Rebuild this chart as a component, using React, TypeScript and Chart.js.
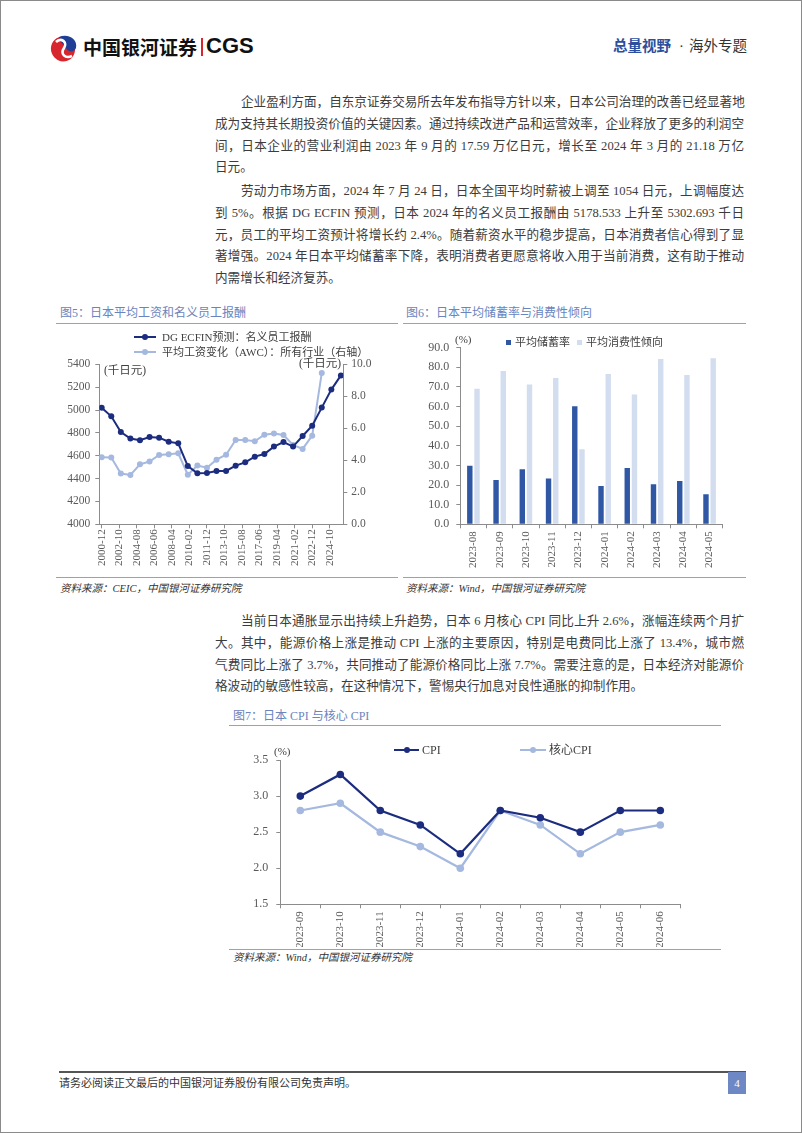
import React, { useEffect, useRef } from 'react';
import { Chart, registerables } from 'chart.js';
Chart.register(...registerables);

// ---------- Chart 5 data ----------
const WAGE_YEARS = [2000, 2001, 2002, 2003, 2004, 2005, 2006, 2007, 2008, 2009, 2010, 2011, 2012, 2013, 2014, 2015, 2016, 2017, 2018, 2019, 2020, 2021, 2022, 2023, 2024, 2025];
const COMPENSATION = [5020, 4945, 4808, 4750, 4735, 4764, 4758, 4723, 4709, 4510, 4446, 4449, 4467, 4467, 4513, 4542, 4592, 4615, 4680, 4720, 4680, 4773, 4863, 5021, 5178.533, 5302.693];
const AWC = [4.19, 4.17, 3.17, 3.08, 3.75, 3.92, 4.33, 4.38, 4.44, 3.1, 3.67, 3.54, 4.04, 4.35, 5.27, 5.27, 5.19, 5.6, 5.67, 5.58, 4.96, 4.71, 5.54, 9.46];
const WAGE_TICKS = ['2000-12', '2002-10', '2004-08', '2006-06', '2008-04', '2010-02', '2011-12', '2013-10', '2015-08', '2017-06', '2019-04', '2021-02', '2022-12', '2024-10'];
const WAGE_NAMES = ['DG ECFIN预测：名义员工报酬', '平均工资变化（AWC）：所有行业（右轴）'];

// ---------- Chart 6 data ----------
const SAVE_MONTHS = ['2023-08', '2023-09', '2023-10', '2023-11', '2023-12', '2024-01', '2024-02', '2024-03', '2024-04', '2024-05'];
const SAVING_RATE = [29.8, 22.6, 28.0, 23.4, 60.1, 19.5, 28.7, 20.4, 22.1, 15.3];
const CONSUMPTION = [69.1, 78.1, 71.2, 74.5, 38.2, 76.6, 66.1, 84.2, 76.1, 84.6];
const SAVE_NAMES = ['平均储蓄率', '平均消费性倾向'];

// ---------- Chart 7 data ----------
const CPI_MONTHS = ['2023-09', '2023-10', '2023-11', '2023-12', '2024-01', '2024-02', '2024-03', '2024-04', '2024-05', '2024-06'];
const CPI = [3.0, 3.3, 2.8, 2.6, 2.2, 2.8, 2.7, 2.5, 2.8, 2.8];
const CORE_CPI = [2.8, 2.9, 2.5, 2.3, 2.0, 2.8, 2.6, 2.2, 2.5, 2.6];
const CPI_NAMES = ['CPI', '核心CPI'];

// ---------- Text ----------
const P1 = [
  '企业盈利方面，自东京证券交易所去年发布指导方针以来，日本公司治理的改善已经显著地',
  '成为支持其长期投资价值的关键因素。通过持续改进产品和运营效率，企业释放了更多的利润空',
  '间，日本企业的营业利润由 2023 年 9 月的 17.59 万亿日元，增长至 2024 年 3 月的 21.18 万亿',
  '日元。',
];
const P2 = [
  '劳动力市场方面，2024 年 7 月 24 日，日本全国平均时薪被上调至 1054 日元，上调幅度达',
  '到 5%。根据 DG ECFIN 预测，日本 2024 年的名义员工报酬由 5178.533 上升至 5302.693 千日',
  '元，员工的平均工资预计将增长约 2.4%。随着薪资水平的稳步提高，日本消费者信心得到了显',
  '著增强。2024 年日本平均储蓄率下降，表明消费者更愿意将收入用于当前消费，这有助于推动',
  '内需增长和经济复苏。',
];
const P3 = [
  '当前日本通胀显示出持续上升趋势，日本 6 月核心 CPI 同比上升 2.6%，涨幅连续两个月扩',
  '大。其中，能源价格上涨是推动 CPI 上涨的主要原因，特别是电费同比上涨了 13.4%，城市燃',
  '气费同比上涨了 3.7%，共同推动了能源价格同比上涨 7.7%。需要注意的是，日本经济对能源价',
  '格波动的敏感性较高，在这种情况下，警惕央行加息对良性通胀的抑制作用。',
];

const NAVY = '#1c2d80';
const LIGHT = '#a5b8df';
const BAR_DARK = '#2f57a4';
const BAR_LIGHT = '#d2ddef';
const AXIS = '#8c8c8c';
const TICK = '#595959';
const TITLE = '#6a84be';
const SERIF = '"Liberation Serif", "Noto Sans CJK SC", serif';
const CJK = '"Liberation Serif", "Noto Sans CJK SC", sans-serif';

function tickFont(size: number) {
  return { family: 'Liberation Serif', size };
}

function makeWageConfig(): any {
  return {
    type: 'line',
    data: {
      datasets: [
        {
          label: WAGE_NAMES[0],
          data: COMPENSATION.map((v, i) => ({ x: (WAGE_YEARS[i] - 2000) * 12, y: v })),
          yAxisID: 'y',
          borderColor: NAVY,
          backgroundColor: NAVY,
          borderWidth: 2,
          pointRadius: 3,
          pointBorderWidth: 0,
          pointBackgroundColor: NAVY,
        },
        {
          label: WAGE_NAMES[1],
          data: AWC.map((v, i) => ({ x: (WAGE_YEARS[i] - 2000) * 12, y: v })),
          yAxisID: 'y1',
          borderColor: LIGHT,
          backgroundColor: LIGHT,
          borderWidth: 2,
          pointRadius: 3,
          pointBorderWidth: 0,
          pointBackgroundColor: LIGHT,
        },
      ],
    },
    options: {
      responsive: false,
      animation: false,
      events: [],
      layout: { padding: { left: 0, right: 14.7, top: 38.3, bottom: 0 } },
      plugins: { legend: { display: false }, tooltip: { enabled: false } },
      scales: {
        x: {
          type: 'linear',
          min: -3,
          max: 303,
          afterBuildTicks: (s: any) => {
            s.ticks = WAGE_TICKS.map((_, i) => ({ value: i * 22 }));
          },
          afterFit: (s: any) => {
            s.height = 51.7;
          },
          ticks: {
            autoSkip: false,
            minRotation: 90,
            maxRotation: 90,
            padding: 1,
            font: tickFont(11),
            color: TICK,
            callback: (_v: any, i: number) => WAGE_TICKS[i],
          },
          grid: { drawOnChartArea: false, tickLength: 4, color: AXIS },
          border: { color: AXIS },
        },
        y: {
          position: 'left',
          min: 4000,
          max: 5400,
          afterFit: (s: any) => {
            s.width = 43.3;
          },
          ticks: {
            stepSize: 200,
            padding: 5,
            font: tickFont(11.5),
            color: TICK,
            callback: (v: any) => String(Math.round(Number(v))),
          },
          grid: { drawOnChartArea: false, tickLength: 4, color: AXIS },
          border: { color: AXIS },
        },
        y1: {
          position: 'right',
          min: 0,
          max: 10,
          afterFit: (s: any) => {
            s.width = 40;
          },
          ticks: {
            stepSize: 2,
            padding: 4,
            font: tickFont(11.5),
            color: TICK,
            callback: (v: any) => Number(v).toFixed(1),
          },
          grid: { drawOnChartArea: false, tickLength: 4, color: AXIS },
          border: { color: AXIS },
        },
      },
    },
  };
}

function makeSaveConfig(): any {
  return {
    type: 'bar',
    data: {
      labels: SAVE_MONTHS,
      datasets: [
        {
          label: SAVE_NAMES[0],
          data: SAVING_RATE,
          backgroundColor: BAR_DARK,
          barPercentage: 0.75,
          categoryPercentage: 0.55,
        },
        {
          label: SAVE_NAMES[1],
          data: CONSUMPTION,
          backgroundColor: BAR_LIGHT,
          barPercentage: 0.75,
          categoryPercentage: 0.55,
        },
      ],
    },
    options: {
      responsive: false,
      animation: false,
      events: [],
      layout: { padding: { left: 0, right: 23.3, top: 21.7, bottom: 0 } },
      plugins: { legend: { display: false }, tooltip: { enabled: false } },
      scales: {
        x: {
          afterFit: (s: any) => {
            s.height = 51.7;
          },
          ticks: {
            autoSkip: false,
            minRotation: 90,
            maxRotation: 90,
            padding: 3,
            font: tickFont(11),
            color: TICK,
          },
          grid: { drawOnChartArea: false, tickLength: 4, color: AXIS, offset: true },
          border: { color: AXIS },
        },
        y: {
          min: 0,
          max: 90,
          afterFit: (s: any) => {
            s.width = 59.3;
          },
          ticks: {
            stepSize: 10,
            padding: 7,
            font: tickFont(12),
            color: TICK,
            callback: (v: any) => Number(v).toFixed(1),
          },
          grid: { drawOnChartArea: false, tickLength: 4, color: AXIS },
          border: { color: AXIS },
        },
      },
    },
  };
}

function makeCpiConfig(): any {
  const ds = (label: string, data: number[], color: string) => ({
    label,
    data,
    borderColor: color,
    backgroundColor: color,
    pointBackgroundColor: color,
    borderWidth: 2.2,
    pointRadius: 3.8,
    pointBorderWidth: 0,
  });
  return {
    type: 'line',
    data: {
      labels: CPI_MONTHS,
      datasets: [ds(CPI_NAMES[0], CPI, NAVY), ds(CPI_NAMES[1], CORE_CPI, LIGHT)],
    },
    options: {
      responsive: false,
      animation: false,
      events: [],
      layout: { padding: { left: 0, right: 40.7, top: 31, bottom: 0 } },
      plugins: { legend: { display: false }, tooltip: { enabled: false } },
      scales: {
        x: {
          offset: true,
          afterFit: (s: any) => {
            s.height = 42.7;
          },
          ticks: {
            autoSkip: false,
            minRotation: 90,
            maxRotation: 90,
            padding: 3,
            font: tickFont(11),
            color: TICK,
          },
          grid: { drawOnChartArea: false, tickLength: 4, color: AXIS, offset: true },
          border: { color: AXIS },
        },
        y: {
          min: 1.5,
          max: 3.5,
          afterFit: (s: any) => {
            s.width = 51.3;
          },
          ticks: {
            stepSize: 0.5,
            padding: 8,
            font: tickFont(12),
            color: TICK,
            callback: (v: any) => Number(v).toFixed(1),
          },
          grid: { drawOnChartArea: false, tickLength: 4, color: AXIS },
          border: { color: AXIS },
        },
      },
    },
  };
}

function ChartBox(props: { left: number; top: number; width: number; height: number; make: () => any }) {
  const ref = useRef<HTMLCanvasElement>(null);
  useEffect(() => {
    const chart = new Chart(ref.current as HTMLCanvasElement, props.make());
    return () => chart.destroy();
  }, []);
  return (
    <canvas
      ref={ref}
      width={props.width}
      height={props.height}
      style={{ position: 'absolute', left: props.left, top: props.top, width: props.width, height: props.height, display: 'block' }}
    />
  );
}

function Abs(props: { x: number; y: number; children: any; style?: any }) {
  return (
    <div style={{ position: 'absolute', left: props.x, top: props.y, whiteSpace: 'nowrap', lineHeight: 1, ...(props.style || {}) }}>
      {props.children}
    </div>
  );
}

function Paragraph(props: { lines: string[]; center: number }) {
  const pitch = 21.8;
  return (
    <>
      {props.lines.map((line, i) => {
        const last = i === props.lines.length - 1;
        const indent = i === 0 ? 26 : 0;
        return (
          <div
            key={i}
            style={{
              position: 'absolute',
              left: 214 + indent,
              top: props.center + i * pitch - 11,
              width: 529 - indent,
              height: 22,
              lineHeight: '22px',
              fontSize: 12.6,
              fontFamily: CJK,
              color: '#3c3c3c',
              textAlign: last ? 'left' : 'justify',
              textAlignLast: last ? 'left' : 'justify',
              whiteSpace: 'nowrap',
            } as any}
          >
            {line}
          </div>
        );
      })}
    </>
  );
}

function LineMarker(props: { x: number; y: number; color: string; w: number; r: number; lw: number }) {
  return (
    <div style={{ position: 'absolute', left: props.x, top: props.y - props.r, width: props.w, height: props.r * 2 }}>
      <div style={{ position: 'absolute', left: 0, top: props.r - props.lw / 2, width: props.w, height: props.lw, background: props.color }} />
      <div
        style={{
          position: 'absolute',
          left: props.w / 2 - props.r,
          top: 0,
          width: props.r * 2,
          height: props.r * 2,
          borderRadius: '50%',
          background: props.color,
        }}
      />
    </div>
  );
}

function Hr(props: { x1: number; x2: number; y: number; color: string; h?: number }) {
  return (
    <div style={{ position: 'absolute', left: props.x1, top: props.y, width: props.x2 - props.x1, height: props.h || 1, background: props.color }} />
  );
}

function Logo() {
  return (
    <svg width="30" height="30" viewBox="0 0 30 30" style={{ position: 'absolute', left: 48, top: 32 }}>
      <ellipse cx="14" cy="16" rx="12" ry="12.5" fill="#d8262e" transform="rotate(-20 14 16)" />
      <path d="M10 4 C19 0 29 6 27 15 C25 20 19 19 17 15 C15 11 10 10 10 4 Z" fill="#1f3f96" />
      <path d="M7 9 C12 4 19 9 15 15 C11 21 16 26 23 23" stroke="#ffffff" strokeWidth="2.6" fill="none" />
    </svg>
  );
}

export default function App() {
  const srcStyle = { fontFamily: CJK, fontSize: 10.5, color: '#333', fontStyle: 'italic' };
  const titleStyle = { fontFamily: CJK, fontSize: 12, color: TITLE };
  const legStyle = { fontFamily: CJK, fontSize: 11, color: '#404040' };
  return (
    <div
      style={{
        position: 'absolute',
        left: 0,
        top: 0,
        width: 802,
        height: 1133,
        boxSizing: 'border-box',
        border: '1px solid #8a8a8a',
        background: '#fff',
        overflow: 'hidden',
      }}
    >
      {/* Header */}
      <Logo />
      <Abs x={82} y={36} style={{ fontFamily: '"Noto Sans CJK SC", sans-serif', fontWeight: 700, fontSize: 19, color: '#111' }}>
        中国银河证券
      </Abs>
      <div style={{ position: 'absolute', left: 200, top: 37, width: 1.5, height: 18, background: '#d8262e' }} />
      <Abs x={205} y={34} style={{ fontFamily: '"Liberation Sans", Arial, sans-serif', fontWeight: 700, fontSize: 22, color: '#111' }}>
        CGS
      </Abs>
      <Abs x={612} y={38} style={{ fontFamily: CJK, fontSize: 14.5, color: '#2c4e9e', fontWeight: 700 }}>
        总量视野
      </Abs>
      <Abs x={678} y={38} style={{ fontFamily: CJK, fontSize: 14.5, color: '#333' }}>
        ·
      </Abs>
      <Abs x={688} y={38} style={{ fontFamily: CJK, fontSize: 14.5, color: '#333' }}>
        海外专题
      </Abs>

      {/* Paragraphs */}
      <Paragraph lines={P1} center={101} />
      <Paragraph lines={P2} center={190} />

      {/* Figure 5 */}
      <Abs x={59} y={306} style={titleStyle}>图5：日本平均工资和名义员工报酬</Abs>
      <Hr x1={55} x2={397} y={322} color="#8fa2cf" />
      <ChartBox left={55} top={325} width={342} height={250} make={makeWageConfig} />
      <LineMarker x={133} y={336} color={NAVY} w={22} r={3} lw={2} />
      <Abs x={161} y={330.5} style={legStyle}>{WAGE_NAMES[0]}</Abs>
      <LineMarker x={133} y={351} color={LIGHT} w={22} r={3} lw={2} />
      <Abs x={161} y={345.5} style={legStyle}>{WAGE_NAMES[1]}</Abs>
      <Abs x={103} y={364} style={{ ...legStyle, fontSize: 11.5 }}>(千日元)</Abs>
      <Abs x={298} y={357} style={{ ...legStyle, fontSize: 11.5 }}>(千日元)</Abs>
      <Hr x1={55} x2={397} y={576} color="#8fa2cf" />
      <Abs x={59} y={583} style={srcStyle}>资料来源：CEIC，中国银河证券研究院</Abs>

      {/* Figure 6 */}
      <Abs x={405} y={306} style={titleStyle}>图6：日本平均储蓄率与消费性倾向</Abs>
      <Hr x1={402} x2={745} y={322} color="#8fa2cf" />
      <ChartBox left={400} top={325} width={345} height={250} make={makeSaveConfig} />
      <Abs x={454} y={333} style={legStyle}>(%)</Abs>
      <div style={{ position: 'absolute', left: 505, top: 339, width: 5, height: 5, background: BAR_DARK }} />
      <Abs x={514} y={336} style={legStyle}>{SAVE_NAMES[0]}</Abs>
      <div style={{ position: 'absolute', left: 576, top: 339, width: 5, height: 5, background: BAR_LIGHT }} />
      <Abs x={585} y={336} style={legStyle}>{SAVE_NAMES[1]}</Abs>
      <Hr x1={402} x2={745} y={576} color="#8fa2cf" />
      <Abs x={405} y={583} style={srcStyle}>资料来源：Wind，中国银河证券研究院</Abs>

      {/* Paragraph 3 */}
      <Paragraph lines={P3} center={620} />

      {/* Figure 7 */}
      <Abs x={232} y={709} style={titleStyle}>图7：日本 CPI 与核心 CPI</Abs>
      <Hr x1={228} x2={720} y={724} color="#8fa2cf" />
      <ChartBox left={228} top={728} width={492} height={218} make={makeCpiConfig} />
      <Abs x={273} y={745} style={legStyle}>(%)</Abs>
      <LineMarker x={393} y={749} color={NAVY} w={25} r={3} lw={2} />
      <Abs x={421} y={743} style={{ ...legStyle, fontSize: 12 }}>{CPI_NAMES[0]}</Abs>
      <LineMarker x={519} y={749} color={LIGHT} w={26} r={3} lw={2} />
      <Abs x={548} y={743} style={{ ...legStyle, fontSize: 12 }}>{CPI_NAMES[1]}</Abs>
      <Hr x1={228} x2={720} y={948} color="#8fa2cf" />
      <Abs x={232} y={952} style={srcStyle}>资料来源：Wind，中国银河证券研究院</Abs>

      {/* Footer */}
      <Hr x1={58} x2={745} y={1070} color="#555" h={1.5} />
      <Abs x={58} y={1077} style={{ fontFamily: CJK, fontSize: 11, color: '#333' }}>
        请务必阅读正文最后的中国银河证券股份有限公司免责声明。
      </Abs>
      <div
        style={{
          position: 'absolute',
          left: 727,
          top: 1071,
          width: 18,
          height: 22,
          background: '#6d88c4',
          color: '#fff',
          fontFamily: SERIF,
          fontSize: 11,
          lineHeight: '22px',
          textAlign: 'center',
        }}
      >
        4
      </div>
    </div>
  );
}
